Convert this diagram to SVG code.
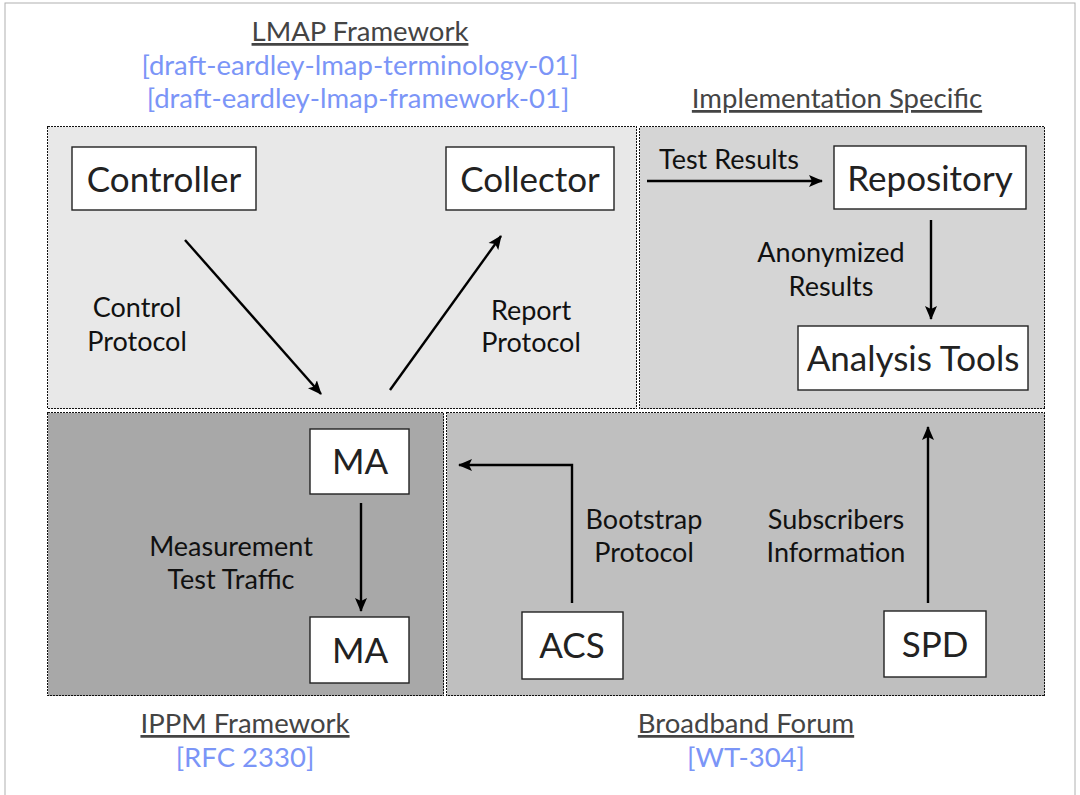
<svg xmlns="http://www.w3.org/2000/svg" width="1080" height="795" viewBox="0 0 1080 795">
<defs>
<marker id="ah" markerWidth="14" markerHeight="14" refX="13" refY="6" orient="auto" markerUnits="userSpaceOnUse" viewBox="0 0 14 12">
<path d="M0,0 L14,6 L0,12 L3,6 Z" fill="#000"/>
</marker>
</defs>
<style>
.region{stroke:#111;stroke-width:1;stroke-dasharray:2,1;shape-rendering:crispEdges}
.node rect{fill:#fff;stroke:#222;stroke-width:1.4}
.node text{font-family:Lato,"Open Sans",sans-serif;font-size:35px;fill:#222;text-anchor:middle}
.lbl{font-family:Lato,"Open Sans",sans-serif;font-size:27px;fill:#111;text-anchor:middle}
.hdr{font-family:Lato,"Open Sans",sans-serif;font-size:27.5px;fill:#444;text-anchor:middle;text-decoration:underline}
.ref{font-family:Lato,"Open Sans",sans-serif;font-size:27.5px;fill:#7b95f7;text-anchor:middle}
.conn path{fill:none;stroke:#000;stroke-width:2.4;marker-end:url(#ah)}
</style>
<rect x="0" y="0" width="1080" height="795" fill="#fff"/>
<rect x="5" y="3" width="1070" height="800" fill="none" stroke="#b0b0b0" stroke-width="1"/>

<g id="regions">
<rect id="lmap" class="region" x="47.5" y="126.5" width="589" height="282" fill="#e8e8e8"/>
<rect id="impl" class="region" x="639.5" y="126.5" width="405" height="282" fill="#d5d5d5"/>
<rect id="ippm" class="region" x="47.5" y="412.5" width="396" height="283" fill="#a8a8a8"/>
<rect id="bbf" class="region" x="446.5" y="412.5" width="598" height="283" fill="#bfbfbf"/>
</g>

<g id="headers">
<text class="hdr" x="360" y="41">LMAP Framework</text>
<text class="ref" x="360" y="75">[draft-eardley-lmap-terminology-01]</text>
<text class="ref" x="358" y="108">[draft-eardley-lmap-framework-01]</text>
<text class="hdr" x="837" y="108">Implementation Specific</text>
<text class="hdr" x="245" y="733">IPPM Framework</text>
<text class="ref" x="245" y="767">[RFC 2330]</text>
<text class="hdr" x="746" y="733">Broadband Forum</text>
<text class="ref" x="746" y="767">[WT-304]</text>
</g>

<g id="controller" class="node"><rect x="72" y="147" width="184" height="63"/><text x="164" y="192">Controller</text></g>
<g id="collector" class="node"><rect x="446" y="147" width="168" height="63"/><text x="530" y="192">Collector</text></g>
<g id="repository" class="node"><rect x="834" y="146" width="192" height="63"/><text x="930" y="191">Repository</text></g>
<g id="analysis" class="node"><rect x="798" y="326" width="230" height="64"/><text x="913" y="371">Analysis Tools</text></g>
<g id="ma1" class="node"><rect x="310" y="429" width="99" height="65"/><text x="360" y="474">MA</text></g>
<g id="ma2" class="node"><rect x="310" y="617" width="99" height="66"/><text x="360" y="663">MA</text></g>
<g id="acs" class="node"><rect x="522" y="612" width="101" height="67"/><text x="572" y="658">ACS</text></g>
<g id="spd" class="node"><rect x="884" y="611" width="102" height="66"/><text x="935" y="657">SPD</text></g>

<g id="connectors" class="conn">
<path d="M185,240 L321,394"/>
<path d="M390,390 L501,236"/>
<path d="M647,181 L822,181"/>
<path d="M931,220 L931,319"/>
<path d="M361,503 L361,611"/>
<path d="M572,603 L572,465 L459,465"/>
<path d="M928,603 L928,427"/>
</g>

<g id="labels">
<text class="lbl" x="137" y="317">Control</text>
<text class="lbl" x="137" y="351">Protocol</text>
<text class="lbl" x="531" y="320">Report</text>
<text class="lbl" x="531" y="352">Protocol</text>
<text class="lbl" x="729" y="169">Test Results</text>
<text class="lbl" x="831" y="262">Anonymized</text>
<text class="lbl" x="831" y="296">Results</text>
<text class="lbl" x="231" y="556">Measurement</text>
<text class="lbl" x="231" y="589">Test Traffic</text>
<text class="lbl" x="644" y="529">Bootstrap</text>
<text class="lbl" x="644" y="562">Protocol</text>
<text class="lbl" x="836" y="529">Subscribers</text>
<text class="lbl" x="836" y="562">Information</text>
</g>
</svg>
